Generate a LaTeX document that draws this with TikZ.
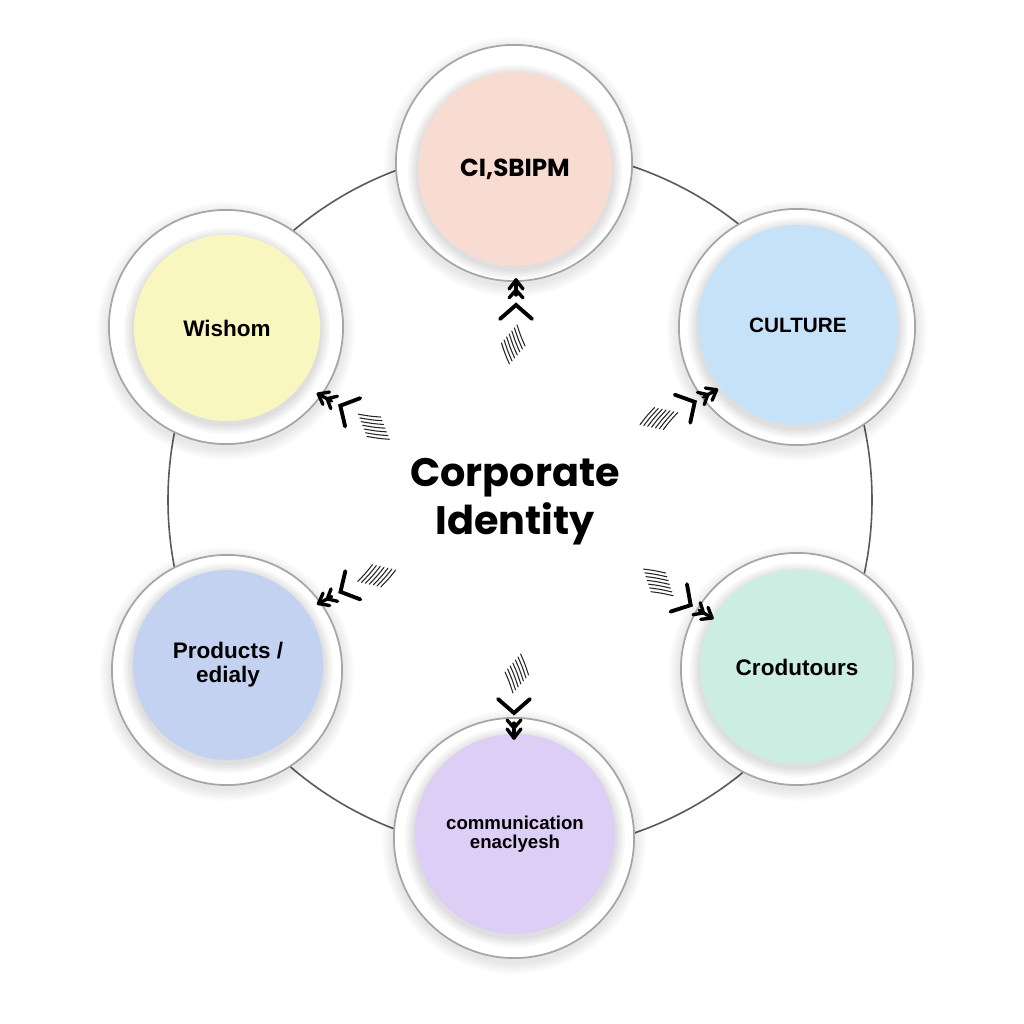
\documentclass[tikz,border=0pt]{standalone}
\usepackage{fontspec}
\setmainfont{Liberation Sans}
\newfontfamily\titlefont{Poppins}
\definecolor{cpeach}{HTML}{F9DCD1}
\definecolor{cyellow}{HTML}{FAF6C0}
\definecolor{cblue}{HTML}{C6E2F8}
\definecolor{cperi}{HTML}{C4D2F2}
\definecolor{cmint}{HTML}{CCEDE2}
\definecolor{cviolet}{HTML}{DCCEF4}
\newcommand\bubble[9]{%
  \foreach \k in {1,...,6}{\fill[black,opacity=0.015] (#2,#3-4) circle[radius=#4+\k*2];}
  \node[outerc, minimum size=#4*0.02cm] (#1) at (#2,#3) {};
  \foreach \k in {1,...,4}{\fill[black,opacity=0.03] (#5,#6-3) circle[radius=#7+\k*2.5];}
  \node[innerc, #8, minimum size=#7*0.02cm] (#1in) at (#5,#6) {#9};
}
\newcommand\sketcharrow[2]{%
  \begin{scope}[shift={(#1)},rotate=#2]
    \draw[tipline] (-9,7) -- (0,0) -- (-9,-7);
    \draw[tipline] (-18,7) -- (-10,0) -- (-18,-7);
    \draw[tipline] (0,0) -- (-15,0);
    \draw[chevline] (-39,16) -- (-25,0) -- (-39,-16);
    \foreach \i in {0,...,6}{\draw[hatchline] (-66-3*\i,-9+2.6*\i) .. controls (-57-3*\i,-5+2.6*\i) .. (-45-3*\i,-1+2.6*\i);}
  \end{scope}
}
\begin{document}
\begin{tikzpicture}[x=0.01cm,y=0.01cm,
  outerc/.style={circle, draw=black!35, line width=0.5pt, fill=white, inner sep=0pt, outer sep=0pt},
  innerc/.style={circle, inner sep=0pt, outer sep=0pt, align=center, font=\fontsize{6.4}{6.9}\selectfont\bfseries},
  ringline/.style={draw=black!65, line width=0.45pt},
  tipline/.style={black, line width=0.95pt, line cap=round, line join=round},
  chevline/.style={black, line width=1.1pt, line cap=round, line join=miter},
  hatchline/.style={black!85, line width=0.3pt, line cap=round},
  title/.style={align=center, inner sep=0pt, font=\fontsize{11.3}{13.6}\selectfont\titlefont\bfseries}]
\fill[white] (0,0) rectangle (1024,1024);
\useasboundingbox (0,0) rectangle (1024,1024);
\coordinate (ringc) at (520,524);
\draw[ringline] (ringc) circle[radius=352];
\bubble{top}{514}{861}{118}{515}{855}{97}{fill=cpeach, font=\titlefont\fontsize{7.0}{8}\selectfont\bfseries}{CI,SBIPM}
\bubble{wishom}{226}{697}{117}{227}{696}{93}{fill=cyellow}{Wishom}
\bubble{culture}{797}{697}{118}{798}{699}{100}{fill=cblue, font=\fontsize{5.9}{7}\selectfont\bfseries}{CULTURE}
\bubble{products}{227}{354}{115}{228}{359}{95}{fill=cperi}{Products /\\edialy}
\bubble{crod}{797}{355}{116}{797}{357}{97}{fill=cmint}{Crodutours}
\bubble{comm}{514}{186}{120}{515}{190}{100}{fill=cviolet, font=\fontsize{5.3}{5.5}\selectfont\bfseries}{communication\\enaclyesh}
\node[title] (ci) at (515,522) {Corporate\\Identity};
\path (top) ++(271:117) coordinate (aT);
\path (wishom) ++(-36:114) coordinate (aW);
\path (culture) ++(218:102) coordinate (aC);
\path (products) ++(36:113) coordinate (aP);
\path (crod) ++(149:99) coordinate (aR);
\path (comm) ++(90:100) coordinate (aM);
\sketcharrow{aT}{90}
\sketcharrow{aW}{152}
\sketcharrow{aC}{29}
\sketcharrow{aP}{208}
\sketcharrow{aR}{329}
\sketcharrow{aM}{270}
\end{tikzpicture}
\end{document}
